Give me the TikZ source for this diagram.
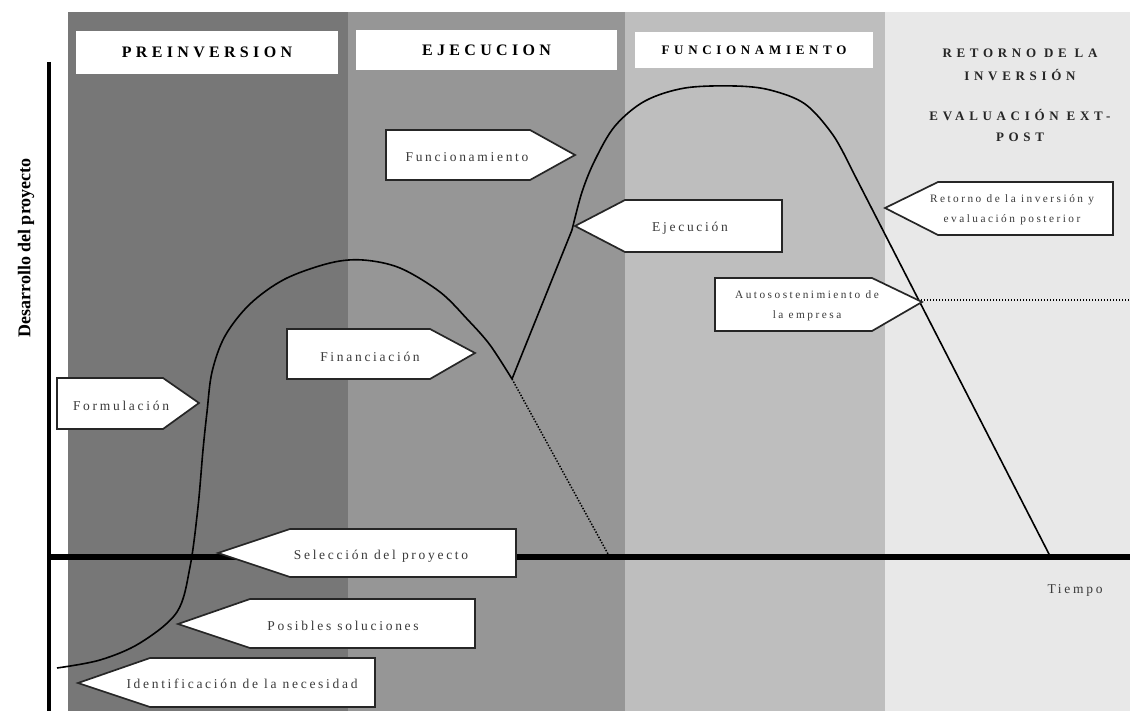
\documentclass[tikz,border=0pt]{standalone}
\usepackage{fontspec}
\setmainfont{Liberation Serif}
\newfontfamily\lblfont[LetterSpace=20]{Liberation Serif}
\newfontfamily\lblsmfont[LetterSpace=22]{Liberation Serif}
\newfontfamily\hdrfont[LetterSpace=27]{Liberation Serif}
\newfontfamily\hdrwide[LetterSpace=36]{Liberation Serif}
\definecolor{colA}{HTML}{777777}
\definecolor{colB}{HTML}{969696}
\definecolor{colC}{HTML}{BEBEBE}
\definecolor{colD}{HTML}{E8E8E8}
\definecolor{txt}{HTML}{3A3A3A}
\tikzset{
  abox/.style={draw=black!85, line width=1.7pt, fill=white, line join=miter},
  lbl/.style={font=\lblfont\fontsize{13.5}{15}\selectfont, text=txt, inner sep=0pt, align=center},
  lblsm/.style={font=\lblsmfont\fontsize{11.3}{20}\selectfont, text=txt, inner sep=0pt, align=center},
  hdrbox/.style={fill=white, inner sep=0pt, font=\hdrfont\bfseries\fontsize{16}{18}\selectfont},
  hdrtxt/.style={inner sep=0pt, font=\hdrwide\bfseries\fontsize{13}{15}\selectfont, text=black!85},
  curve/.style={line width=1.6pt, black},
  dotline/.style={line width=1.5pt, dash pattern=on 1.4pt off 1.6pt},
}
\begin{document}
\begin{tikzpicture}[x=1pt,y=-1pt]
\useasboundingbox (0,0) rectangle (1130,711);
\fill[white] (0,0) rectangle (1130,711);
% columns
\fill[colA] (68,12) rectangle (348,711);
\fill[colB] (348,12) rectangle (625,711);
\fill[colC] (625,12) rectangle (885,711);
\fill[colD] (885,12) rectangle (1130,711);
% header boxes
\node[hdrbox, minimum width=262pt, minimum height=43pt] (h1) at (207,52.5) {PREINVERSION};
\node[hdrbox, minimum width=261pt, minimum height=40pt] (h2) at (486.5,50) {EJECUCION};
\node[hdrbox, minimum width=238pt, minimum height=36pt, font=\hdrwide\bfseries\fontsize{13}{15}\selectfont] (h3) at (754,50) {FUNCIONAMIENTO};
\node[hdrtxt] (h4a) at (1020,53) {RETORNO DE LA};
\node[hdrtxt] (h4b) at (1020,75) {INVERSIÓN};
\node[hdrtxt] (h4c) at (1020,115) {EVALUACIÓN EXT-};
\node[hdrtxt] (h4d) at (1020,137) {POST};
% axes
\draw[line width=4pt] (49,62) -- (49,711);
\draw[line width=6pt] (47,557) -- (1130,557);
\node[rotate=90, font=\bfseries\fontsize{18}{20}\selectfont, inner sep=0pt] (ylab) at (26,248) {Desarrollo del proyecto};
\node[lbl] (tiempo) at (1075,590) {Tiempo};
% curves
\coordinate (v) at (512,379);
\coordinate (q) at (572,230);
\coordinate (p) at (852,170);
\coordinate (e) at (1050,556);
\coordinate (d1) at (608,554);
\coordinate (s1) at (918,300);
\coordinate (s2) at (1130,300);
\draw[curve] plot[smooth, tension=0.55] coordinates {(57,668) (100,660) (140,643) (177,612) (190,567) (198,507) (203,450) (207,412) (212,372) (225,336) (250,304) (285,279) (330,263) (363,260) (400,268) (440,292) (468,320) (490,345) (512,379)};
\draw[curve] (v) -- (q);
\draw[curve] plot[smooth, tension=0.55] coordinates {(572,230) (582,192) (595,160) (615,126) (645,101) (685,88) (735,86) (770,90) (805,104) (833,135) (852,170)};
\draw[curve] (p) -- (e);
\draw[dotline] (v) -- (d1);
\draw[dotline] (s1) -- (s2);
% arrow boxes (right-pointing)
\draw[abox] (57,378) -- (163,378) -- (199,403) -- (163,429) -- (57,429) -- cycle;
\node[lbl] (formulacion) at (121,406) {Formulación};
\draw[abox] (287,329) -- (430,329) -- (475,353) -- (430,379) -- (287,379) -- cycle;
\node[lbl] (financiacion) at (370,357) {Financiación};
\draw[abox] (386,130) -- (530,130) -- (575,155) -- (530,180) -- (386,180) -- cycle;
\node[lbl] (funcionamiento) at (467,157) {Funcionamiento};
\draw[abox] (715,278) -- (872,278) -- (922,302) -- (872,331) -- (715,331) -- cycle;
\node[lblsm] (autosost) at (807,306) {Autosostenimiento de\\la empresa};
% arrow boxes (left-pointing)
\draw[abox] (575,226) -- (625,200) -- (782,200) -- (782,252) -- (625,252) -- cycle;
\node[lbl] (ejecucion) at (690,228) {Ejecución};
\draw[abox] (885,208) -- (938,182) -- (1113,182) -- (1113,235) -- (938,235) -- cycle;
\node[lblsm] (retorno) at (1012,210) {Retorno de la inversión y\\evaluación posterior};
\draw[abox] (218,553) -- (290,529) -- (516,529) -- (516,577) -- (290,577) -- cycle;
\node[lbl] (seleccion) at (381,556) {Selección del proyecto};
\draw[abox] (178,624) -- (250,599) -- (475,599) -- (475,648) -- (250,648) -- cycle;
\node[lbl] (posibles) at (343,626) {Posibles soluciones};
\draw[abox] (78,683) -- (150,658) -- (375,658) -- (375,707) -- (150,707) -- cycle;
\node[lbl] (identificacion) at (242,684) {Identificación de la necesidad};
\end{tikzpicture}
\end{document}
